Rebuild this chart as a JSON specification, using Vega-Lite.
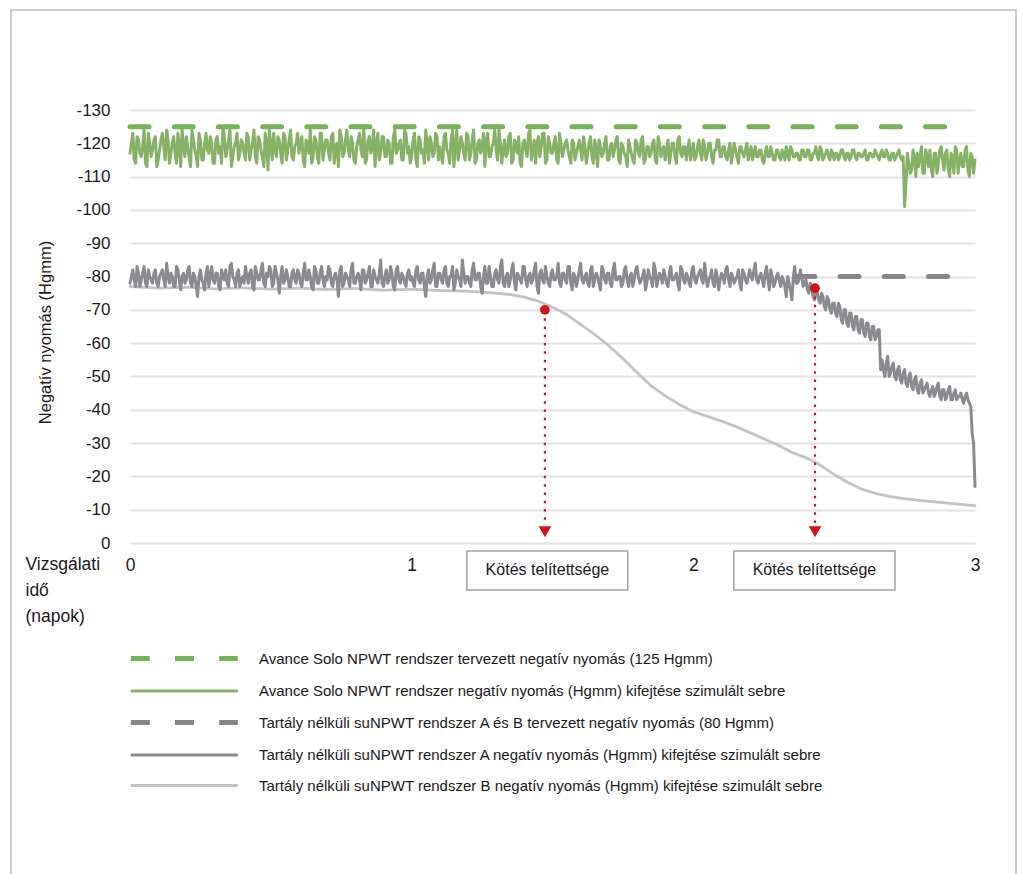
{
"$schema": "https://vega.github.io/schema/vega-lite/v6.json",
"width": 845, "height": 433,
"autosize": {"type": "none"},
"padding": {"left": 130, "top": 110, "right": 47, "bottom": 331},
"background": "white",
"config": {"view": {"stroke": null}, "font": "Liberation Sans, Arial, sans-serif",
  "axis": {"labelColor": "#1a1a1a", "titleColor": "#1a1a1a", "titleFontWeight": "normal", "labelFont": "Liberation Sans, Arial, sans-serif", "titleFont": "Liberation Sans, Arial, sans-serif"}},
"datasets": {
"frame": [{"x": -0.4225, "x2": 3.1456, "y": 160.0, "y2": -107}],
"series": [
{"s":"2","x":0,"y":117},{"s":"2","x":0.01,"y":123},{"s":"2","x":0.02,"y":114},{"s":"2","x":0.03,"y":121},{"s":"2","x":0.04,"y":116},{"s":"2","x":0.05,"y":124},{"s":"2","x":0.06,"y":113},{"s":"2","x":0.07,"y":120},{"s":"2","x":0.08,"y":118},{"s":"2","x":0.09,"y":122},
{"s":"2","x":0.1,"y":115},{"s":"2","x":0.11,"y":121},{"s":"2","x":0.12,"y":119},{"s":"2","x":0.13,"y":124},{"s":"2","x":0.14,"y":114},{"s":"2","x":0.15,"y":120},{"s":"2","x":0.16,"y":117},{"s":"2","x":0.17,"y":123},{"s":"2","x":0.18,"y":113},{"s":"2","x":0.19,"y":119},
{"s":"2","x":0.2,"y":122},{"s":"2","x":0.21,"y":116},{"s":"2","x":0.22,"y":124},{"s":"2","x":0.23,"y":118},{"s":"2","x":0.24,"y":113},{"s":"2","x":0.25,"y":121},{"s":"2","x":0.26,"y":115},{"s":"2","x":0.27,"y":123},{"s":"2","x":0.28,"y":117},{"s":"2","x":0.29,"y":120},
{"s":"2","x":0.3,"y":114},{"s":"2","x":0.31,"y":122},{"s":"2","x":0.32,"y":119},{"s":"2","x":0.33,"y":125},{"s":"2","x":0.34,"y":116},{"s":"2","x":0.35,"y":121},{"s":"2","x":0.36,"y":113},{"s":"2","x":0.37,"y":119},{"s":"2","x":0.38,"y":123},{"s":"2","x":0.39,"y":117},
{"s":"2","x":0.4,"y":120},{"s":"2","x":0.41,"y":115},{"s":"2","x":0.42,"y":122},{"s":"2","x":0.43,"y":118},{"s":"2","x":0.44,"y":124},{"s":"2","x":0.45,"y":114},{"s":"2","x":0.46,"y":121},{"s":"2","x":0.47,"y":116},{"s":"2","x":0.48,"y":123},{"s":"2","x":0.49,"y":112},
{"s":"2","x":0.5,"y":119},{"s":"2","x":0.51,"y":123},{"s":"2","x":0.52,"y":116},{"s":"2","x":0.53,"y":121},{"s":"2","x":0.54,"y":114},{"s":"2","x":0.55,"y":122},{"s":"2","x":0.56,"y":118},{"s":"2","x":0.57,"y":124},{"s":"2","x":0.58,"y":115},{"s":"2","x":0.59,"y":120},
{"s":"2","x":0.6,"y":117},{"s":"2","x":0.61,"y":122},{"s":"2","x":0.62,"y":113},{"s":"2","x":0.63,"y":120},{"s":"2","x":0.64,"y":124},{"s":"2","x":0.65,"y":116},{"s":"2","x":0.66,"y":121},{"s":"2","x":0.67,"y":114},{"s":"2","x":0.68,"y":123},{"s":"2","x":0.69,"y":118},
{"s":"2","x":0.7,"y":121},{"s":"2","x":0.71,"y":115},{"s":"2","x":0.72,"y":123},{"s":"2","x":0.73,"y":119},{"s":"2","x":0.74,"y":113},{"s":"2","x":0.75,"y":122},{"s":"2","x":0.76,"y":117},{"s":"2","x":0.77,"y":124},{"s":"2","x":0.78,"y":116},{"s":"2","x":0.79,"y":120},
{"s":"2","x":0.8,"y":114},{"s":"2","x":0.81,"y":121},{"s":"2","x":0.82,"y":118},{"s":"2","x":0.83,"y":125},{"s":"2","x":0.84,"y":115},{"s":"2","x":0.85,"y":122},{"s":"2","x":0.86,"y":119},{"s":"2","x":0.87,"y":113},{"s":"2","x":0.88,"y":123},{"s":"2","x":0.89,"y":117},
{"s":"2","x":0.9,"y":122},{"s":"2","x":0.91,"y":116},{"s":"2","x":0.92,"y":120},{"s":"2","x":0.93,"y":114},{"s":"2","x":0.94,"y":124},{"s":"2","x":0.95,"y":118},{"s":"2","x":0.96,"y":121},{"s":"2","x":0.97,"y":115},{"s":"2","x":0.98,"y":123},{"s":"2","x":0.99,"y":119},
{"s":"2","x":1.0,"y":116},{"s":"2","x":1.01,"y":123},{"s":"2","x":1.02,"y":113},{"s":"2","x":1.03,"y":121},{"s":"2","x":1.04,"y":118},{"s":"2","x":1.05,"y":124},{"s":"2","x":1.06,"y":115},{"s":"2","x":1.07,"y":120},{"s":"2","x":1.08,"y":117},{"s":"2","x":1.09,"y":122},
{"s":"2","x":1.1,"y":119},{"s":"2","x":1.11,"y":114},{"s":"2","x":1.12,"y":123},{"s":"2","x":1.13,"y":117},{"s":"2","x":1.14,"y":121},{"s":"2","x":1.15,"y":113},{"s":"2","x":1.16,"y":124},{"s":"2","x":1.17,"y":118},{"s":"2","x":1.18,"y":120},{"s":"2","x":1.19,"y":115},
{"s":"2","x":1.2,"y":122},{"s":"2","x":1.21,"y":117},{"s":"2","x":1.22,"y":124},{"s":"2","x":1.23,"y":115},{"s":"2","x":1.24,"y":121},{"s":"2","x":1.25,"y":119},{"s":"2","x":1.26,"y":113},{"s":"2","x":1.27,"y":123},{"s":"2","x":1.28,"y":116},{"s":"2","x":1.29,"y":120},
{"s":"2","x":1.3,"y":118},{"s":"2","x":1.31,"y":124},{"s":"2","x":1.32,"y":114},{"s":"2","x":1.33,"y":121},{"s":"2","x":1.34,"y":117},{"s":"2","x":1.35,"y":123},{"s":"2","x":1.36,"y":115},{"s":"2","x":1.37,"y":120},{"s":"2","x":1.38,"y":122},{"s":"2","x":1.39,"y":113},
{"s":"2","x":1.4,"y":121},{"s":"2","x":1.41,"y":116},{"s":"2","x":1.42,"y":124},{"s":"2","x":1.43,"y":118},{"s":"2","x":1.44,"y":114},{"s":"2","x":1.45,"y":122},{"s":"2","x":1.46,"y":119},{"s":"2","x":1.47,"y":123},{"s":"2","x":1.48,"y":115},{"s":"2","x":1.49,"y":120},
{"s":"2","x":1.5,"y":117},{"s":"2","x":1.51,"y":122},{"s":"2","x":1.52,"y":114},{"s":"2","x":1.53,"y":120},{"s":"2","x":1.54,"y":118},{"s":"2","x":1.55,"y":121},{"s":"2","x":1.56,"y":116},{"s":"2","x":1.57,"y":121},{"s":"2","x":1.58,"y":115},{"s":"2","x":1.59,"y":119},
{"s":"2","x":1.6,"y":118},{"s":"2","x":1.61,"y":122},{"s":"2","x":1.62,"y":114},{"s":"2","x":1.63,"y":120},{"s":"2","x":1.64,"y":116},{"s":"2","x":1.65,"y":121},{"s":"2","x":1.66,"y":113},{"s":"2","x":1.67,"y":119},{"s":"2","x":1.68,"y":117},{"s":"2","x":1.69,"y":122},
{"s":"2","x":1.7,"y":115},{"s":"2","x":1.71,"y":120},{"s":"2","x":1.72,"y":118},{"s":"2","x":1.73,"y":122},{"s":"2","x":1.74,"y":114},{"s":"2","x":1.75,"y":119},{"s":"2","x":1.76,"y":116},{"s":"2","x":1.77,"y":121},{"s":"2","x":1.78,"y":117},{"s":"2","x":1.79,"y":114},
{"s":"2","x":1.8,"y":120},{"s":"2","x":1.81,"y":116},{"s":"2","x":1.82,"y":122},{"s":"2","x":1.83,"y":115},{"s":"2","x":1.84,"y":119},{"s":"2","x":1.85,"y":117},{"s":"2","x":1.86,"y":121},{"s":"2","x":1.87,"y":114},{"s":"2","x":1.88,"y":120},{"s":"2","x":1.89,"y":118},
{"s":"2","x":1.9,"y":115},{"s":"2","x":1.91,"y":121},{"s":"2","x":1.92,"y":117},{"s":"2","x":1.93,"y":120},{"s":"2","x":1.94,"y":114},{"s":"2","x":1.95,"y":122},{"s":"2","x":1.96,"y":116},{"s":"2","x":1.97,"y":119},{"s":"2","x":1.98,"y":118},{"s":"2","x":1.99,"y":115},
{"s":"2","x":2.0,"y":120},{"s":"2","x":2.01,"y":116},{"s":"2","x":2.02,"y":121},{"s":"2","x":2.03,"y":115},{"s":"2","x":2.04,"y":119},{"s":"2","x":2.05,"y":117},{"s":"2","x":2.06,"y":120},{"s":"2","x":2.07,"y":114},{"s":"2","x":2.08,"y":118},{"s":"2","x":2.09,"y":121},
{"s":"2","x":2.1,"y":116},{"s":"2","x":2.11,"y":119},{"s":"2","x":2.12,"y":115},{"s":"2","x":2.13,"y":120},{"s":"2","x":2.14,"y":117},{"s":"2","x":2.15,"y":118},{"s":"2","x":2.16,"y":114},{"s":"2","x":2.17,"y":119},{"s":"2","x":2.18,"y":116},{"s":"2","x":2.19,"y":120},
{"s":"2","x":2.2,"y":117},{"s":"2","x":2.21,"y":115},{"s":"2","x":2.22,"y":119},{"s":"2","x":2.23,"y":116},{"s":"2","x":2.24,"y":118},{"s":"2","x":2.25,"y":114},{"s":"2","x":2.26,"y":119},{"s":"2","x":2.27,"y":116},{"s":"2","x":2.28,"y":117},{"s":"2","x":2.29,"y":115},
{"s":"2","x":2.3,"y":118},{"s":"2","x":2.31,"y":115},{"s":"2","x":2.32,"y":117},{"s":"2","x":2.33,"y":119},{"s":"2","x":2.34,"y":115},{"s":"2","x":2.35,"y":118},{"s":"2","x":2.36,"y":116},{"s":"2","x":2.37,"y":117},{"s":"2","x":2.38,"y":115},{"s":"2","x":2.39,"y":118},
{"s":"2","x":2.4,"y":116},{"s":"2","x":2.41,"y":118},{"s":"2","x":2.42,"y":115},{"s":"2","x":2.43,"y":117},{"s":"2","x":2.44,"y":116},{"s":"2","x":2.45,"y":119},{"s":"2","x":2.46,"y":115},{"s":"2","x":2.47,"y":117},{"s":"2","x":2.48,"y":116},{"s":"2","x":2.49,"y":118},
{"s":"2","x":2.5,"y":115},{"s":"2","x":2.51,"y":117},{"s":"2","x":2.52,"y":116},{"s":"2","x":2.53,"y":118},{"s":"2","x":2.54,"y":115},{"s":"2","x":2.55,"y":117},{"s":"2","x":2.56,"y":116},{"s":"2","x":2.57,"y":118},{"s":"2","x":2.58,"y":115},{"s":"2","x":2.59,"y":117},
{"s":"2","x":2.6,"y":116},{"s":"2","x":2.61,"y":118},{"s":"2","x":2.62,"y":115},{"s":"2","x":2.63,"y":117},{"s":"2","x":2.64,"y":116},{"s":"2","x":2.65,"y":117},{"s":"2","x":2.66,"y":115},{"s":"2","x":2.67,"y":118},{"s":"2","x":2.68,"y":116},{"s":"2","x":2.69,"y":117},
{"s":"2","x":2.7,"y":115},{"s":"2","x":2.71,"y":117},{"s":"2","x":2.72,"y":116},{"s":"2","x":2.73,"y":118},{"s":"2","x":2.74,"y":115},{"s":"2","x":2.745,"y":116},{"s":"2","x":2.75,"y":101},{"s":"2","x":2.755,"y":108},{"s":"2","x":2.76,"y":117},{"s":"2","x":2.77,"y":111},{"s":"2","x":2.78,"y":118},{"s":"2","x":2.79,"y":110},
{"s":"2","x":2.8,"y":113},{"s":"2","x":2.81,"y":119},{"s":"2","x":2.82,"y":111},{"s":"2","x":2.83,"y":116},{"s":"2","x":2.84,"y":118},{"s":"2","x":2.85,"y":110},{"s":"2","x":2.86,"y":117},{"s":"2","x":2.87,"y":114},{"s":"2","x":2.88,"y":119},{"s":"2","x":2.89,"y":112},
{"s":"2","x":2.9,"y":118},{"s":"2","x":2.91,"y":110},{"s":"2","x":2.92,"y":116},{"s":"2","x":2.93,"y":119},{"s":"2","x":2.94,"y":111},{"s":"2","x":2.95,"y":117},{"s":"2","x":2.96,"y":113},{"s":"2","x":2.97,"y":119},{"s":"2","x":2.98,"y":110},{"s":"2","x":2.99,"y":116},{"s":"2","x":3.0,"y":115},

{"s":"2","x":0.005,"y":120},{"s":"2","x":0.015,"y":115},{"s":"2","x":0.025,"y":122},{"s":"2","x":0.035,"y":117},{"s":"2","x":0.045,"y":119},{"s":"2","x":0.055,"y":114},{"s":"2","x":0.065,"y":123},{"s":"2","x":0.075,"y":116},{"s":"2","x":0.085,"y":121},{"s":"2","x":0.095,"y":113},
{"s":"2","x":0.105,"y":118},{"s":"2","x":0.115,"y":123},{"s":"2","x":0.125,"y":115},{"s":"2","x":0.135,"y":121},{"s":"2","x":0.145,"y":117},{"s":"2","x":0.155,"y":122},{"s":"2","x":0.165,"y":114},{"s":"2","x":0.175,"y":119},{"s":"2","x":0.185,"y":124},{"s":"2","x":0.195,"y":116},
{"s":"2","x":0.205,"y":119},{"s":"2","x":0.215,"y":113},{"s":"2","x":0.225,"y":121},{"s":"2","x":0.235,"y":116},{"s":"2","x":0.245,"y":123},{"s":"2","x":0.255,"y":115},{"s":"2","x":0.265,"y":120},{"s":"2","x":0.275,"y":118},{"s":"2","x":0.285,"y":122},{"s":"2","x":0.295,"y":114},
{"s":"2","x":0.305,"y":121},{"s":"2","x":0.315,"y":117},{"s":"2","x":0.325,"y":114},{"s":"2","x":0.335,"y":122},{"s":"2","x":0.345,"y":118},{"s":"2","x":0.355,"y":124},{"s":"2","x":0.365,"y":116},{"s":"2","x":0.375,"y":120},{"s":"2","x":0.385,"y":115},{"s":"2","x":0.395,"y":121},
{"s":"2","x":0.405,"y":117},{"s":"2","x":0.415,"y":123},{"s":"2","x":0.425,"y":115},{"s":"2","x":0.435,"y":120},{"s":"2","x":0.445,"y":116},{"s":"2","x":0.455,"y":122},{"s":"2","x":0.465,"y":118},{"s":"2","x":0.475,"y":113},{"s":"2","x":0.485,"y":120},{"s":"2","x":0.495,"y":124},
{"s":"2","x":0.505,"y":115},{"s":"2","x":0.515,"y":118},{"s":"2","x":0.525,"y":122},{"s":"2","x":0.535,"y":117},{"s":"2","x":0.545,"y":123},{"s":"2","x":0.555,"y":115},{"s":"2","x":0.565,"y":121},{"s":"2","x":0.575,"y":116},{"s":"2","x":0.585,"y":119},{"s":"2","x":0.595,"y":123},
{"s":"2","x":0.605,"y":120},{"s":"2","x":0.615,"y":115},{"s":"2","x":0.625,"y":121},{"s":"2","x":0.635,"y":117},{"s":"2","x":0.645,"y":114},{"s":"2","x":0.655,"y":122},{"s":"2","x":0.665,"y":116},{"s":"2","x":0.675,"y":123},{"s":"2","x":0.685,"y":115},{"s":"2","x":0.695,"y":121},
{"s":"2","x":0.705,"y":117},{"s":"2","x":0.715,"y":122},{"s":"2","x":0.725,"y":114},{"s":"2","x":0.735,"y":120},{"s":"2","x":0.745,"y":124},{"s":"2","x":0.755,"y":116},{"s":"2","x":0.765,"y":121},{"s":"2","x":0.775,"y":118},{"s":"2","x":0.785,"y":122},{"s":"2","x":0.795,"y":115},
{"s":"2","x":0.805,"y":119},{"s":"2","x":0.815,"y":123},{"s":"2","x":0.825,"y":116},{"s":"2","x":0.835,"y":114},{"s":"2","x":0.845,"y":121},{"s":"2","x":0.855,"y":117},{"s":"2","x":0.865,"y":124},{"s":"2","x":0.875,"y":120},{"s":"2","x":0.885,"y":115},{"s":"2","x":0.895,"y":122},
{"s":"2","x":0.905,"y":116},{"s":"2","x":0.915,"y":121},{"s":"2","x":0.925,"y":114},{"s":"2","x":0.935,"y":122},{"s":"2","x":0.945,"y":117},{"s":"2","x":0.955,"y":120},{"s":"2","x":0.965,"y":115},{"s":"2","x":0.975,"y":124},{"s":"2","x":0.985,"y":117},{"s":"2","x":0.995,"y":114},
{"s":"2","x":1.005,"y":121},{"s":"2","x":1.015,"y":115},{"s":"2","x":1.025,"y":122},{"s":"2","x":1.035,"y":117},{"s":"2","x":1.045,"y":114},{"s":"2","x":1.055,"y":120},{"s":"2","x":1.065,"y":122},{"s":"2","x":1.075,"y":116},{"s":"2","x":1.085,"y":123},{"s":"2","x":1.095,"y":115},
{"s":"2","x":1.105,"y":116},{"s":"2","x":1.115,"y":122},{"s":"2","x":1.125,"y":118},{"s":"2","x":1.135,"y":114},{"s":"2","x":1.145,"y":124},{"s":"2","x":1.155,"y":119},{"s":"2","x":1.165,"y":115},{"s":"2","x":1.175,"y":122},{"s":"2","x":1.185,"y":117},{"s":"2","x":1.195,"y":123},
{"s":"2","x":1.205,"y":115},{"s":"2","x":1.215,"y":121},{"s":"2","x":1.225,"y":114},{"s":"2","x":1.235,"y":120},{"s":"2","x":1.245,"y":117},{"s":"2","x":1.255,"y":123},{"s":"2","x":1.265,"y":121},{"s":"2","x":1.275,"y":116},{"s":"2","x":1.285,"y":119},{"s":"2","x":1.295,"y":124},
{"s":"2","x":1.305,"y":115},{"s":"2","x":1.315,"y":120},{"s":"2","x":1.325,"y":118},{"s":"2","x":1.335,"y":116},{"s":"2","x":1.345,"y":122},{"s":"2","x":1.355,"y":114},{"s":"2","x":1.365,"y":121},{"s":"2","x":1.375,"y":117},{"s":"2","x":1.385,"y":114},{"s":"2","x":1.395,"y":120},
{"s":"2","x":1.405,"y":118},{"s":"2","x":1.415,"y":123},{"s":"2","x":1.425,"y":115},{"s":"2","x":1.435,"y":121},{"s":"2","x":1.445,"y":120},{"s":"2","x":1.455,"y":116},{"s":"2","x":1.465,"y":123},{"s":"2","x":1.475,"y":114},{"s":"2","x":1.485,"y":122},{"s":"2","x":1.495,"y":117},
{"s":"2","x":1.505,"y":120},{"s":"2","x":1.515,"y":115},{"s":"2","x":1.525,"y":123},{"s":"2","x":1.535,"y":116},{"s":"2","x":1.545,"y":120},
{"s":"2","x":1.555,"y":118},{"s":"2","x":1.565,"y":114},{"s":"2","x":1.575,"y":120},{"s":"2","x":1.585,"y":117},{"s":"2","x":1.595,"y":121},
{"s":"2","x":1.605,"y":115},{"s":"2","x":1.615,"y":119},{"s":"2","x":1.625,"y":117},{"s":"2","x":1.635,"y":122},{"s":"2","x":1.645,"y":114},{"s":"2","x":1.655,"y":118},{"s":"2","x":1.665,"y":121},{"s":"2","x":1.675,"y":116},{"s":"2","x":1.685,"y":120},{"s":"2","x":1.695,"y":115},
{"s":"2","x":1.705,"y":119},{"s":"2","x":1.715,"y":116},{"s":"2","x":1.725,"y":121},{"s":"2","x":1.735,"y":115},{"s":"2","x":1.745,"y":120},{"s":"2","x":1.755,"y":117},{"s":"2","x":1.765,"y":113},{"s":"2","x":1.775,"y":119},{"s":"2","x":1.785,"y":115},{"s":"2","x":1.795,"y":121},
{"s":"2","x":1.805,"y":117},{"s":"2","x":1.815,"y":121},{"s":"2","x":1.825,"y":114},{"s":"2","x":1.835,"y":119},{"s":"2","x":1.845,"y":116},{"s":"2","x":1.855,"y":120},{"s":"2","x":1.865,"y":115},{"s":"2","x":1.875,"y":122},{"s":"2","x":1.885,"y":116},{"s":"2","x":1.895,"y":119},
{"s":"2","x":1.905,"y":118},{"s":"2","x":1.915,"y":114},{"s":"2","x":1.925,"y":120},{"s":"2","x":1.935,"y":116},{"s":"2","x":1.945,"y":121},{"s":"2","x":1.955,"y":117},{"s":"2","x":1.965,"y":119},{"s":"2","x":1.975,"y":115},{"s":"2","x":1.985,"y":121},{"s":"2","x":1.995,"y":117},
{"s":"2","x":2.005,"y":115},{"s":"2","x":2.015,"y":119},{"s":"2","x":2.025,"y":117},{"s":"2","x":2.035,"y":121},{"s":"2","x":2.045,"y":115},{"s":"2","x":2.055,"y":120},{"s":"2","x":2.065,"y":116},{"s":"2","x":2.075,"y":118},{"s":"2","x":2.085,"y":121},{"s":"2","x":2.095,"y":116},
{"s":"2","x":2.105,"y":119},{"s":"2","x":2.115,"y":116},{"s":"2","x":2.125,"y":118},{"s":"2","x":2.135,"y":114},{"s":"2","x":2.145,"y":120},{"s":"2","x":2.155,"y":116},{"s":"2","x":2.165,"y":119},{"s":"2","x":2.175,"y":117},{"s":"2","x":2.185,"y":118},{"s":"2","x":2.195,"y":115},
{"s":"2","x":2.205,"y":119},{"s":"2","x":2.215,"y":117},{"s":"2","x":2.225,"y":116},{"s":"2","x":2.235,"y":118},{"s":"2","x":2.245,"y":115},{"s":"2","x":2.255,"y":117},{"s":"2","x":2.265,"y":116},{"s":"2","x":2.275,"y":119},{"s":"2","x":2.285,"y":115},{"s":"2","x":2.295,"y":118},
{"s":"2","x":2.305,"y":116},{"s":"2","x":2.315,"y":118},{"s":"2","x":2.325,"y":115},{"s":"2","x":2.335,"y":117},{"s":"2","x":2.345,"y":119},{"s":"2","x":2.355,"y":116},{"s":"2","x":2.365,"y":117},{"s":"2","x":2.375,"y":115},{"s":"2","x":2.385,"y":118},{"s":"2","x":2.395,"y":116},
{"s":"2","x":2.405,"y":118},{"s":"2","x":2.415,"y":115},{"s":"2","x":2.425,"y":117},{"s":"2","x":2.435,"y":119},{"s":"2","x":2.445,"y":115},{"s":"2","x":2.455,"y":118},{"s":"2","x":2.465,"y":116},{"s":"2","x":2.475,"y":118},{"s":"2","x":2.485,"y":115},{"s":"2","x":2.495,"y":117},
{"s":"2","x":2.505,"y":117},{"s":"2","x":2.515,"y":115},{"s":"2","x":2.525,"y":118},{"s":"2","x":2.535,"y":116},{"s":"2","x":2.545,"y":117},{"s":"2","x":2.555,"y":115},{"s":"2","x":2.565,"y":118},{"s":"2","x":2.575,"y":116},{"s":"2","x":2.585,"y":117},{"s":"2","x":2.595,"y":116},
{"s":"2","x":2.605,"y":117},{"s":"2","x":2.615,"y":115},{"s":"2","x":2.625,"y":117},{"s":"2","x":2.635,"y":116},{"s":"2","x":2.645,"y":118},{"s":"2","x":2.655,"y":116},{"s":"2","x":2.665,"y":117},{"s":"2","x":2.675,"y":116},{"s":"2","x":2.685,"y":118},{"s":"2","x":2.695,"y":115},
{"s":"2","x":2.705,"y":117},{"s":"2","x":2.715,"y":115},{"s":"2","x":2.725,"y":117},{"s":"2","x":2.735,"y":116},
{"s":"2","x":2.765,"y":114},{"s":"2","x":2.775,"y":112},{"s":"2","x":2.785,"y":116},{"s":"2","x":2.795,"y":117},
{"s":"2","x":2.805,"y":116},{"s":"2","x":2.815,"y":111},{"s":"2","x":2.825,"y":118},{"s":"2","x":2.835,"y":113},{"s":"2","x":2.845,"y":112},{"s":"2","x":2.855,"y":117},{"s":"2","x":2.865,"y":111},{"s":"2","x":2.875,"y":118},{"s":"2","x":2.885,"y":115},{"s":"2","x":2.895,"y":117},
{"s":"2","x":2.905,"y":112},{"s":"2","x":2.915,"y":117},{"s":"2","x":2.925,"y":111},{"s":"2","x":2.935,"y":118},{"s":"2","x":2.945,"y":115},{"s":"2","x":2.955,"y":113},{"s":"2","x":2.965,"y":118},{"s":"2","x":2.975,"y":112},{"s":"2","x":2.985,"y":117},{"s":"2","x":2.995,"y":111},

{"s":"5","x":0,"y":77},{"s":"5","x":0.1,"y":76.5},{"s":"5","x":0.2,"y":76.8},{"s":"5","x":0.3,"y":76.3},{"s":"5","x":0.4,"y":76.6},{"s":"5","x":0.5,"y":76.2},{"s":"5","x":0.6,"y":76.5},{"s":"5","x":0.7,"y":76.1},{"s":"5","x":0.8,"y":76.4},{"s":"5","x":0.9,"y":75.9},{"s":"5","x":1.0,"y":76.2},{"s":"5","x":1.1,"y":75.8},{"s":"5","x":1.2,"y":75.6},{"s":"5","x":1.3,"y":75.0},{"s":"5","x":1.35,"y":74.6},{"s":"5","x":1.4,"y":73.8},{"s":"5","x":1.45,"y":72.6},{"s":"5","x":1.5,"y":70.8},{"s":"5","x":1.55,"y":68.6},{"s":"5","x":1.6,"y":65.6},{"s":"5","x":1.65,"y":62.6},{"s":"5","x":1.7,"y":59.2},{"s":"5","x":1.75,"y":55.4},{"s":"5","x":1.8,"y":51.2},{"s":"5","x":1.85,"y":47.2},{"s":"5","x":1.9,"y":44.2},{"s":"5","x":1.95,"y":41.6},{"s":"5","x":2.0,"y":39.4},{"s":"5","x":2.05,"y":38.0},{"s":"5","x":2.1,"y":36.6},{"s":"5","x":2.15,"y":35.0},{"s":"5","x":2.2,"y":33.2},{"s":"5","x":2.25,"y":31.3},{"s":"5","x":2.3,"y":29.4},{"s":"5","x":2.35,"y":27.2},{"s":"5","x":2.4,"y":25.6},{"s":"5","x":2.43,"y":24.4},{"s":"5","x":2.45,"y":23.4},{"s":"5","x":2.5,"y":20.6},{"s":"5","x":2.55,"y":18.1},{"s":"5","x":2.6,"y":16.1},{"s":"5","x":2.65,"y":14.8},{"s":"5","x":2.7,"y":13.9},{"s":"5","x":2.75,"y":13.3},{"s":"5","x":2.8,"y":12.8},{"s":"5","x":2.85,"y":12.4},{"s":"5","x":2.9,"y":12.0},{"s":"5","x":2.95,"y":11.6},{"s":"5","x":3.0,"y":11.2},

{"s":"4","x":0,"y":78},{"s":"4","x":0.01,"y":82},{"s":"4","x":0.02,"y":77},{"s":"4","x":0.03,"y":81},{"s":"4","x":0.04,"y":79},{"s":"4","x":0.05,"y":83},{"s":"4","x":0.06,"y":77},{"s":"4","x":0.07,"y":80},{"s":"4","x":0.08,"y":78},{"s":"4","x":0.09,"y":82},
{"s":"4","x":0.1,"y":77},{"s":"4","x":0.11,"y":81},{"s":"4","x":0.12,"y":79},{"s":"4","x":0.13,"y":84},{"s":"4","x":0.14,"y":78},{"s":"4","x":0.15,"y":80},{"s":"4","x":0.16,"y":77},{"s":"4","x":0.17,"y":82},{"s":"4","x":0.18,"y":76},{"s":"4","x":0.19,"y":81},
{"s":"4","x":0.2,"y":79},{"s":"4","x":0.21,"y":83},{"s":"4","x":0.22,"y":77},{"s":"4","x":0.23,"y":80},{"s":"4","x":0.24,"y":74},{"s":"4","x":0.25,"y":82},{"s":"4","x":0.26,"y":78},{"s":"4","x":0.27,"y":81},{"s":"4","x":0.28,"y":77},{"s":"4","x":0.29,"y":83},
{"s":"4","x":0.3,"y":78},{"s":"4","x":0.31,"y":81},{"s":"4","x":0.32,"y":76},{"s":"4","x":0.33,"y":80},{"s":"4","x":0.34,"y":82},{"s":"4","x":0.35,"y":77},{"s":"4","x":0.36,"y":84},{"s":"4","x":0.37,"y":79},{"s":"4","x":0.38,"y":81},{"s":"4","x":0.39,"y":77},
{"s":"4","x":0.4,"y":80},{"s":"4","x":0.41,"y":83},{"s":"4","x":0.42,"y":78},{"s":"4","x":0.43,"y":82},{"s":"4","x":0.44,"y":76},{"s":"4","x":0.45,"y":81},{"s":"4","x":0.46,"y":79},{"s":"4","x":0.47,"y":84},{"s":"4","x":0.48,"y":77},{"s":"4","x":0.49,"y":80},
{"s":"4","x":0.5,"y":82},{"s":"4","x":0.51,"y":78},{"s":"4","x":0.52,"y":81},{"s":"4","x":0.53,"y":75},{"s":"4","x":0.54,"y":83},{"s":"4","x":0.55,"y":79},{"s":"4","x":0.56,"y":80},{"s":"4","x":0.57,"y":77},{"s":"4","x":0.58,"y":82},{"s":"4","x":0.59,"y":78},
{"s":"4","x":0.6,"y":81},{"s":"4","x":0.61,"y":77},{"s":"4","x":0.62,"y":84},{"s":"4","x":0.63,"y":79},{"s":"4","x":0.64,"y":80},{"s":"4","x":0.65,"y":76},{"s":"4","x":0.66,"y":82},{"s":"4","x":0.67,"y":78},{"s":"4","x":0.68,"y":83},{"s":"4","x":0.69,"y":77},
{"s":"4","x":0.7,"y":79},{"s":"4","x":0.71,"y":82},{"s":"4","x":0.72,"y":77},{"s":"4","x":0.73,"y":81},{"s":"4","x":0.74,"y":74},{"s":"4","x":0.75,"y":83},{"s":"4","x":0.76,"y":78},{"s":"4","x":0.77,"y":80},{"s":"4","x":0.78,"y":77},{"s":"4","x":0.79,"y":84},
{"s":"4","x":0.8,"y":78},{"s":"4","x":0.81,"y":81},{"s":"4","x":0.82,"y":76},{"s":"4","x":0.83,"y":82},{"s":"4","x":0.84,"y":79},{"s":"4","x":0.85,"y":83},{"s":"4","x":0.86,"y":77},{"s":"4","x":0.87,"y":80},{"s":"4","x":0.88,"y":78},{"s":"4","x":0.89,"y":85},
{"s":"4","x":0.9,"y":77},{"s":"4","x":0.91,"y":82},{"s":"4","x":0.92,"y":79},{"s":"4","x":0.93,"y":81},{"s":"4","x":0.94,"y":76},{"s":"4","x":0.95,"y":83},{"s":"4","x":0.96,"y":78},{"s":"4","x":0.97,"y":80},{"s":"4","x":0.98,"y":77},{"s":"4","x":0.99,"y":82},
{"s":"4","x":1.0,"y":80},{"s":"4","x":1.01,"y":77},{"s":"4","x":1.02,"y":83},{"s":"4","x":1.03,"y":78},{"s":"4","x":1.04,"y":81},{"s":"4","x":1.05,"y":74},{"s":"4","x":1.06,"y":82},{"s":"4","x":1.07,"y":79},{"s":"4","x":1.08,"y":84},{"s":"4","x":1.09,"y":77},
{"s":"4","x":1.1,"y":81},{"s":"4","x":1.11,"y":78},{"s":"4","x":1.12,"y":83},{"s":"4","x":1.13,"y":77},{"s":"4","x":1.14,"y":80},{"s":"4","x":1.15,"y":76},{"s":"4","x":1.16,"y":82},{"s":"4","x":1.17,"y":79},{"s":"4","x":1.18,"y":85},{"s":"4","x":1.19,"y":78},
{"s":"4","x":1.2,"y":80},{"s":"4","x":1.21,"y":77},{"s":"4","x":1.22,"y":84},{"s":"4","x":1.23,"y":79},{"s":"4","x":1.24,"y":81},{"s":"4","x":1.25,"y":75},{"s":"4","x":1.26,"y":83},{"s":"4","x":1.27,"y":78},{"s":"4","x":1.28,"y":80},{"s":"4","x":1.29,"y":77},
{"s":"4","x":1.3,"y":82},{"s":"4","x":1.31,"y":78},{"s":"4","x":1.32,"y":85},{"s":"4","x":1.33,"y":77},{"s":"4","x":1.34,"y":81},{"s":"4","x":1.35,"y":79},{"s":"4","x":1.36,"y":84},{"s":"4","x":1.37,"y":76},{"s":"4","x":1.38,"y":80},{"s":"4","x":1.39,"y":78},
{"s":"4","x":1.4,"y":83},{"s":"4","x":1.41,"y":77},{"s":"4","x":1.42,"y":81},{"s":"4","x":1.43,"y":79},{"s":"4","x":1.44,"y":84},{"s":"4","x":1.45,"y":75},{"s":"4","x":1.46,"y":82},{"s":"4","x":1.47,"y":78},{"s":"4","x":1.48,"y":80},{"s":"4","x":1.49,"y":77},
{"s":"4","x":1.5,"y":82},{"s":"4","x":1.51,"y":79},{"s":"4","x":1.52,"y":84},{"s":"4","x":1.53,"y":77},{"s":"4","x":1.54,"y":81},{"s":"4","x":1.55,"y":78},{"s":"4","x":1.56,"y":83},{"s":"4","x":1.57,"y":76},{"s":"4","x":1.58,"y":80},{"s":"4","x":1.59,"y":79},
{"s":"4","x":1.6,"y":84},{"s":"4","x":1.61,"y":78},{"s":"4","x":1.62,"y":81},{"s":"4","x":1.63,"y":77},{"s":"4","x":1.64,"y":83},{"s":"4","x":1.65,"y":79},{"s":"4","x":1.66,"y":80},{"s":"4","x":1.67,"y":76},{"s":"4","x":1.68,"y":82},{"s":"4","x":1.69,"y":78},
{"s":"4","x":1.7,"y":81},{"s":"4","x":1.71,"y":77},{"s":"4","x":1.72,"y":84},{"s":"4","x":1.73,"y":79},{"s":"4","x":1.74,"y":80},{"s":"4","x":1.75,"y":78},{"s":"4","x":1.76,"y":83},{"s":"4","x":1.77,"y":77},{"s":"4","x":1.78,"y":81},{"s":"4","x":1.79,"y":79},
{"s":"4","x":1.8,"y":83},{"s":"4","x":1.81,"y":78},{"s":"4","x":1.82,"y":80},{"s":"4","x":1.83,"y":76},{"s":"4","x":1.84,"y":82},{"s":"4","x":1.85,"y":79},{"s":"4","x":1.86,"y":84},{"s":"4","x":1.87,"y":77},{"s":"4","x":1.88,"y":81},{"s":"4","x":1.89,"y":78},
{"s":"4","x":1.9,"y":80},{"s":"4","x":1.91,"y":77},{"s":"4","x":1.92,"y":83},{"s":"4","x":1.93,"y":79},{"s":"4","x":1.94,"y":81},{"s":"4","x":1.95,"y":76},{"s":"4","x":1.96,"y":82},{"s":"4","x":1.97,"y":78},{"s":"4","x":1.98,"y":80},{"s":"4","x":1.99,"y":77},
{"s":"4","x":2.0,"y":83},{"s":"4","x":2.01,"y":78},{"s":"4","x":2.02,"y":81},{"s":"4","x":2.03,"y":79},{"s":"4","x":2.04,"y":84},{"s":"4","x":2.05,"y":77},{"s":"4","x":2.06,"y":80},{"s":"4","x":2.07,"y":78},{"s":"4","x":2.08,"y":82},{"s":"4","x":2.09,"y":76},
{"s":"4","x":2.1,"y":81},{"s":"4","x":2.11,"y":78},{"s":"4","x":2.12,"y":83},{"s":"4","x":2.13,"y":77},{"s":"4","x":2.14,"y":80},{"s":"4","x":2.15,"y":79},{"s":"4","x":2.16,"y":82},{"s":"4","x":2.17,"y":76},{"s":"4","x":2.18,"y":81},{"s":"4","x":2.19,"y":78},
{"s":"4","x":2.2,"y":82},{"s":"4","x":2.21,"y":79},{"s":"4","x":2.22,"y":84},{"s":"4","x":2.23,"y":78},{"s":"4","x":2.24,"y":81},{"s":"4","x":2.25,"y":77},{"s":"4","x":2.26,"y":83},{"s":"4","x":2.27,"y":76},{"s":"4","x":2.28,"y":80},{"s":"4","x":2.29,"y":78},
{"s":"4","x":2.3,"y":81},{"s":"4","x":2.31,"y":77},{"s":"4","x":2.32,"y":79},{"s":"4","x":2.33,"y":74},{"s":"4","x":2.34,"y":78},{"s":"4","x":2.35,"y":73},{"s":"4","x":2.36,"y":83},{"s":"4","x":2.37,"y":78},{"s":"4","x":2.38,"y":82},{"s":"4","x":2.39,"y":77},
{"s":"4","x":2.4,"y":79},{"s":"4","x":2.41,"y":75},{"s":"4","x":2.42,"y":77},{"s":"4","x":2.43,"y":73},{"s":"4","x":2.44,"y":75},{"s":"4","x":2.45,"y":72},{"s":"4","x":2.46,"y":74},{"s":"4","x":2.47,"y":70},{"s":"4","x":2.48,"y":73},{"s":"4","x":2.49,"y":69},
{"s":"4","x":2.5,"y":72},{"s":"4","x":2.51,"y":68},{"s":"4","x":2.52,"y":71},{"s":"4","x":2.53,"y":66},{"s":"4","x":2.54,"y":70},{"s":"4","x":2.55,"y":65},{"s":"4","x":2.56,"y":69},{"s":"4","x":2.57,"y":64},{"s":"4","x":2.58,"y":68},{"s":"4","x":2.59,"y":63},
{"s":"4","x":2.6,"y":67},{"s":"4","x":2.61,"y":62},{"s":"4","x":2.62,"y":66},{"s":"4","x":2.63,"y":61},{"s":"4","x":2.64,"y":65},{"s":"4","x":2.65,"y":62},{"s":"4","x":2.66,"y":64},{"s":"4","x":2.665,"y":52},{"s":"4","x":2.67,"y":55},{"s":"4","x":2.68,"y":50},{"s":"4","x":2.69,"y":56},
{"s":"4","x":2.7,"y":51},{"s":"4","x":2.71,"y":54},{"s":"4","x":2.72,"y":49},{"s":"4","x":2.73,"y":53},{"s":"4","x":2.74,"y":48},{"s":"4","x":2.75,"y":52},{"s":"4","x":2.76,"y":47},{"s":"4","x":2.77,"y":51},{"s":"4","x":2.78,"y":46},{"s":"4","x":2.79,"y":50},
{"s":"4","x":2.8,"y":45},{"s":"4","x":2.81,"y":49},{"s":"4","x":2.82,"y":46},{"s":"4","x":2.83,"y":48},{"s":"4","x":2.84,"y":44},{"s":"4","x":2.85,"y":47},{"s":"4","x":2.86,"y":45},{"s":"4","x":2.87,"y":48},{"s":"4","x":2.88,"y":43},{"s":"4","x":2.89,"y":46},
{"s":"4","x":2.9,"y":44},{"s":"4","x":2.91,"y":47},{"s":"4","x":2.92,"y":43},{"s":"4","x":2.93,"y":46},{"s":"4","x":2.94,"y":44},{"s":"4","x":2.95,"y":45},{"s":"4","x":2.96,"y":42},{"s":"4","x":2.97,"y":45},{"s":"4","x":2.98,"y":42},{"s":"4","x":2.985,"y":41},{"s":"4","x":2.99,"y":33},{"s":"4","x":2.995,"y":30},{"s":"4","x":3.0,"y":17},

{"s":"4","x":0.005,"y":80},{"s":"4","x":0.015,"y":79},{"s":"4","x":0.025,"y":83},{"s":"4","x":0.035,"y":77},{"s":"4","x":0.045,"y":81},{"s":"4","x":0.055,"y":78},{"s":"4","x":0.065,"y":82},{"s":"4","x":0.075,"y":79},{"s":"4","x":0.085,"y":81},{"s":"4","x":0.095,"y":78},
{"s":"4","x":0.105,"y":80},{"s":"4","x":0.115,"y":82},{"s":"4","x":0.125,"y":77},{"s":"4","x":0.135,"y":80},{"s":"4","x":0.145,"y":81},{"s":"4","x":0.155,"y":77},{"s":"4","x":0.165,"y":83},{"s":"4","x":0.175,"y":79},{"s":"4","x":0.185,"y":80},{"s":"4","x":0.195,"y":78},
{"s":"4","x":0.205,"y":82},{"s":"4","x":0.215,"y":78},{"s":"4","x":0.225,"y":81},{"s":"4","x":0.235,"y":77},{"s":"4","x":0.245,"y":80},{"s":"4","x":0.255,"y":79},{"s":"4","x":0.265,"y":76},{"s":"4","x":0.275,"y":83},{"s":"4","x":0.285,"y":80},{"s":"4","x":0.295,"y":79},
{"s":"4","x":0.305,"y":81},{"s":"4","x":0.315,"y":77},{"s":"4","x":0.325,"y":82},{"s":"4","x":0.335,"y":79},{"s":"4","x":0.345,"y":78},{"s":"4","x":0.355,"y":83},{"s":"4","x":0.365,"y":80},{"s":"4","x":0.375,"y":77},{"s":"4","x":0.385,"y":82},{"s":"4","x":0.395,"y":79},
{"s":"4","x":0.405,"y":78},{"s":"4","x":0.415,"y":80},{"s":"4","x":0.425,"y":81},{"s":"4","x":0.435,"y":77},{"s":"4","x":0.445,"y":83},{"s":"4","x":0.455,"y":79},{"s":"4","x":0.465,"y":82},{"s":"4","x":0.475,"y":78},{"s":"4","x":0.485,"y":81},{"s":"4","x":0.495,"y":83},
{"s":"4","x":0.505,"y":77},{"s":"4","x":0.515,"y":83},{"s":"4","x":0.525,"y":79},{"s":"4","x":0.535,"y":80},{"s":"4","x":0.545,"y":78},{"s":"4","x":0.555,"y":82},{"s":"4","x":0.565,"y":77},{"s":"4","x":0.575,"y":81},{"s":"4","x":0.585,"y":79},{"s":"4","x":0.595,"y":82},
{"s":"4","x":0.605,"y":78},{"s":"4","x":0.615,"y":81},{"s":"4","x":0.625,"y":79},{"s":"4","x":0.635,"y":82},{"s":"4","x":0.645,"y":77},{"s":"4","x":0.655,"y":83},{"s":"4","x":0.665,"y":78},{"s":"4","x":0.675,"y":81},{"s":"4","x":0.685,"y":79},{"s":"4","x":0.695,"y":80},
{"s":"4","x":0.705,"y":83},{"s":"4","x":0.715,"y":78},{"s":"4","x":0.725,"y":80},{"s":"4","x":0.735,"y":79},{"s":"4","x":0.745,"y":82},{"s":"4","x":0.755,"y":77},{"s":"4","x":0.765,"y":81},{"s":"4","x":0.775,"y":79},{"s":"4","x":0.785,"y":82},{"s":"4","x":0.795,"y":78},
{"s":"4","x":0.805,"y":80},{"s":"4","x":0.815,"y":79},{"s":"4","x":0.825,"y":82},{"s":"4","x":0.835,"y":78},{"s":"4","x":0.845,"y":81},{"s":"4","x":0.855,"y":77},{"s":"4","x":0.865,"y":82},{"s":"4","x":0.875,"y":79},{"s":"4","x":0.885,"y":81},{"s":"4","x":0.895,"y":78},
{"s":"4","x":0.905,"y":80},{"s":"4","x":0.915,"y":78},{"s":"4","x":0.925,"y":83},{"s":"4","x":0.935,"y":77},{"s":"4","x":0.945,"y":82},{"s":"4","x":0.955,"y":79},{"s":"4","x":0.965,"y":81},{"s":"4","x":0.975,"y":78},{"s":"4","x":0.985,"y":81},{"s":"4","x":0.995,"y":79},
{"s":"4","x":1.005,"y":78},{"s":"4","x":1.015,"y":82},{"s":"4","x":1.025,"y":79},{"s":"4","x":1.035,"y":81},{"s":"4","x":1.045,"y":77},{"s":"4","x":1.055,"y":80},{"s":"4","x":1.065,"y":78},{"s":"4","x":1.075,"y":82},{"s":"4","x":1.085,"y":77},{"s":"4","x":1.095,"y":81},
{"s":"4","x":1.105,"y":79},{"s":"4","x":1.115,"y":82},{"s":"4","x":1.125,"y":78},{"s":"4","x":1.135,"y":80},{"s":"4","x":1.145,"y":83},{"s":"4","x":1.155,"y":78},{"s":"4","x":1.165,"y":80},{"s":"4","x":1.175,"y":77},{"s":"4","x":1.185,"y":81},{"s":"4","x":1.195,"y":80},
{"s":"4","x":1.205,"y":78},{"s":"4","x":1.215,"y":82},{"s":"4","x":1.225,"y":79},{"s":"4","x":1.235,"y":81},{"s":"4","x":1.245,"y":77},{"s":"4","x":1.255,"y":80},{"s":"4","x":1.265,"y":78},{"s":"4","x":1.275,"y":83},{"s":"4","x":1.285,"y":77},{"s":"4","x":1.295,"y":81},
{"s":"4","x":1.305,"y":79},{"s":"4","x":1.315,"y":83},{"s":"4","x":1.325,"y":78},{"s":"4","x":1.335,"y":80},{"s":"4","x":1.345,"y":77},{"s":"4","x":1.355,"y":82},{"s":"4","x":1.365,"y":78},{"s":"4","x":1.375,"y":81},{"s":"4","x":1.385,"y":79},{"s":"4","x":1.395,"y":83},
{"s":"4","x":1.405,"y":79},{"s":"4","x":1.415,"y":80},{"s":"4","x":1.425,"y":78},{"s":"4","x":1.435,"y":82},{"s":"4","x":1.445,"y":77},{"s":"4","x":1.455,"y":81},{"s":"4","x":1.465,"y":79},{"s":"4","x":1.475,"y":83},{"s":"4","x":1.485,"y":78},{"s":"4","x":1.495,"y":81},
{"s":"4","x":1.505,"y":79},{"s":"4","x":1.515,"y":80},{"s":"4","x":1.525,"y":78},{"s":"4","x":1.535,"y":81},{"s":"4","x":1.545,"y":79},{"s":"4","x":1.555,"y":83},{"s":"4","x":1.565,"y":78},{"s":"4","x":1.575,"y":81},{"s":"4","x":1.585,"y":77},{"s":"4","x":1.595,"y":82},
{"s":"4","x":1.605,"y":79},{"s":"4","x":1.615,"y":80},{"s":"4","x":1.625,"y":78},{"s":"4","x":1.635,"y":82},{"s":"4","x":1.645,"y":77},{"s":"4","x":1.655,"y":81},{"s":"4","x":1.665,"y":78},{"s":"4","x":1.675,"y":83},{"s":"4","x":1.685,"y":79},{"s":"4","x":1.695,"y":81},
{"s":"4","x":1.705,"y":78},{"s":"4","x":1.715,"y":82},{"s":"4","x":1.725,"y":79},{"s":"4","x":1.735,"y":80},{"s":"4","x":1.745,"y":77},{"s":"4","x":1.755,"y":82},{"s":"4","x":1.765,"y":79},{"s":"4","x":1.775,"y":80},{"s":"4","x":1.785,"y":77},{"s":"4","x":1.795,"y":82},
{"s":"4","x":1.805,"y":80},{"s":"4","x":1.815,"y":79},{"s":"4","x":1.825,"y":82},{"s":"4","x":1.835,"y":78},{"s":"4","x":1.845,"y":80},{"s":"4","x":1.855,"y":77},{"s":"4","x":1.865,"y":82},{"s":"4","x":1.875,"y":79},{"s":"4","x":1.885,"y":80},{"s":"4","x":1.895,"y":82},
{"s":"4","x":1.905,"y":78},{"s":"4","x":1.915,"y":81},{"s":"4","x":1.925,"y":79},{"s":"4","x":1.935,"y":80},{"s":"4","x":1.945,"y":78},{"s":"4","x":1.955,"y":83},{"s":"4","x":1.965,"y":79},{"s":"4","x":1.975,"y":81},{"s":"4","x":1.985,"y":78},{"s":"4","x":1.995,"y":82},
{"s":"4","x":2.005,"y":79},{"s":"4","x":2.015,"y":80},{"s":"4","x":2.025,"y":82},{"s":"4","x":2.035,"y":78},{"s":"4","x":2.045,"y":80},{"s":"4","x":2.055,"y":79},{"s":"4","x":2.065,"y":82},{"s":"4","x":2.075,"y":77},{"s":"4","x":2.085,"y":80},{"s":"4","x":2.095,"y":79},
{"s":"4","x":2.105,"y":80},{"s":"4","x":2.115,"y":82},{"s":"4","x":2.125,"y":79},{"s":"4","x":2.135,"y":81},{"s":"4","x":2.145,"y":78},{"s":"4","x":2.155,"y":80},{"s":"4","x":2.165,"y":78},{"s":"4","x":2.175,"y":82},{"s":"4","x":2.185,"y":79},{"s":"4","x":2.195,"y":80},
{"s":"4","x":2.205,"y":80},{"s":"4","x":2.215,"y":82},{"s":"4","x":2.225,"y":79},{"s":"4","x":2.235,"y":80},{"s":"4","x":2.245,"y":79},{"s":"4","x":2.255,"y":81},{"s":"4","x":2.265,"y":79},{"s":"4","x":2.275,"y":82},{"s":"4","x":2.285,"y":77},{"s":"4","x":2.295,"y":80},
{"s":"4","x":2.305,"y":79},{"s":"4","x":2.315,"y":80},{"s":"4","x":2.325,"y":77},{"s":"4","x":2.335,"y":80},{"s":"4","x":2.345,"y":76},{"s":"4","x":2.355,"y":80},{"s":"4","x":2.365,"y":78},{"s":"4","x":2.375,"y":79},{"s":"4","x":2.385,"y":80},{"s":"4","x":2.395,"y":78},
{"s":"4","x":2.405,"y":76},{"s":"4","x":2.415,"y":78},{"s":"4","x":2.425,"y":74},{"s":"4","x":2.435,"y":76},{"s":"4","x":2.445,"y":73},{"s":"4","x":2.455,"y":75},{"s":"4","x":2.465,"y":71},{"s":"4","x":2.475,"y":74},{"s":"4","x":2.485,"y":70},{"s":"4","x":2.495,"y":72},
{"s":"4","x":2.505,"y":69},{"s":"4","x":2.515,"y":72},{"s":"4","x":2.525,"y":67},{"s":"4","x":2.535,"y":70},{"s":"4","x":2.545,"y":66},{"s":"4","x":2.555,"y":69},{"s":"4","x":2.565,"y":65},{"s":"4","x":2.575,"y":68},{"s":"4","x":2.585,"y":64},{"s":"4","x":2.595,"y":67},
{"s":"4","x":2.605,"y":63},{"s":"4","x":2.615,"y":66},{"s":"4","x":2.625,"y":62},{"s":"4","x":2.635,"y":65},{"s":"4","x":2.645,"y":61},{"s":"4","x":2.655,"y":64},
{"s":"4","x":2.675,"y":52},{"s":"4","x":2.685,"y":54},{"s":"4","x":2.695,"y":50},{"s":"4","x":2.705,"y":53},{"s":"4","x":2.715,"y":50},{"s":"4","x":2.725,"y":52},{"s":"4","x":2.735,"y":49},{"s":"4","x":2.745,"y":51},{"s":"4","x":2.755,"y":48},{"s":"4","x":2.765,"y":50},
{"s":"4","x":2.775,"y":47},{"s":"4","x":2.785,"y":49},{"s":"4","x":2.795,"y":46},{"s":"4","x":2.805,"y":48},{"s":"4","x":2.815,"y":45},{"s":"4","x":2.825,"y":47},{"s":"4","x":2.835,"y":45},{"s":"4","x":2.845,"y":46},{"s":"4","x":2.855,"y":44},{"s":"4","x":2.865,"y":47},
{"s":"4","x":2.875,"y":44},{"s":"4","x":2.885,"y":46},{"s":"4","x":2.895,"y":43},{"s":"4","x":2.905,"y":46},{"s":"4","x":2.915,"y":43},{"s":"4","x":2.925,"y":45},{"s":"4","x":2.935,"y":43},{"s":"4","x":2.945,"y":44},{"s":"4","x":2.955,"y":43},{"s":"4","x":2.965,"y":44},{"s":"4","x":2.975,"y":43},

{"s":"1","x":0,"y":125},{"s":"1","x":2.95,"y":125},
{"s":"3","x":2.364,"y":80},{"s":"3","x":2.95,"y":80}
],
"dots": [{"x": 1.473, "y": 70}, {"x": 2.432, "y": 76.5}],
"arrows": [{"x": 1.473, "y": 67.5, "y2": 5.5}, {"x": 2.432, "y": 74, "y2": 5.5}],
"heads": [{"x": 1.473, "y": 3.4}, {"x": 2.432, "y": 3.4}],
"boxes": [{"x": 1.196, "x2": 1.767, "y": -2.4, "y2": -14.1}, {"x": 2.144, "x2": 2.716, "y": -2.4, "y2": -14.1}],
"labels": [{"x": 1.482, "y": -8.0, "t": "Kötés telítettsége"}, {"x": 2.43, "y": -8.0, "t": "Kötés telítettsége"}]
},
"encoding": {
  "x": {"field": "x", "type": "quantitative", "scale": {"domain": [0, 3], "nice": false, "zero": false},
        "axis": {"values": [0, 1, 2, 3], "format": "d", "grid": false, "domain": false, "ticks": false, "tickSize": 0, "labelPadding": 13, "labelFontSize": 17.5, "labelFlush": false, "labelOverlap": false,
                 "title": ["Vizsgálati", "idő", "(napok)"], "titleFontSize": 17.5, "titleX": -105, "titleY": 12, "titleAlign": "left", "titleAnchor": "start", "titleBaseline": "top", "titleLineHeight": 26}},
  "y": {"field": "y", "type": "quantitative", "scale": {"domain": [0, 130], "nice": false, "zero": false},
        "axis": {"values": [0,10,20,30,40,50,60,70,80,90,100,110,120,130], "labelExpr": "datum.value == 0 ? '0' : '-' + datum.value", "grid": true, "gridColor": "#e2e2e8", "gridWidth": 2, "domain": false, "ticks": false, "tickSize": 0, "labelPadding": 20, "labelFontSize": 17, "labelOverlap": false,
                 "title": "Negatív nyomás (Hgmm)", "titleFontSize": 16.5, "titleX": -85, "titleY": 222, "titleAngle": -90, "titleAlign": "center", "titleBaseline": "middle"}}
},
"layer": [
  {"data": {"name": "frame"}, "mark": {"type": "rect", "fillOpacity": 0, "fill": "white", "stroke": "#cbcbcb", "strokeWidth": 2, "clip": false},
   "encoding": {"x2": {"field": "x2"}, "y2": {"field": "y2"}}},
  {"data": {"name": "series"}, "mark": {"type": "line", "strokeCap": "round", "strokeJoin": "round"},
   "encoding": {
     "color": {"field": "s", "type": "nominal",
       "scale": {"domain": ["1", "2", "3", "4", "5"], "range": ["#76b357", "#86b266", "#86858a", "#8b8a8f", "#c3c2c6"]},
       "legend": {"title": null, "orient": "none", "legendX": -2, "legendY": 535, "padding": 0,
         "symbolType": "M-1,0H9", "symbolSize": 458, "symbolStrokeWidth": 5, "symbolFillColor": "transparent",
         "labelFontSize": 15, "labelColor": "#1a1a1a", "labelLimit": 0, "labelOffset": 104, "rowPadding": 9.5,
         "labelExpr": "datum.label == '1' ? 'Avance Solo NPWT rendszer tervezett negatív nyomás (125 Hgmm)' : datum.label == '2' ? 'Avance Solo NPWT rendszer negatív nyomás (Hgmm) kifejtése szimulált sebre' : datum.label == '3' ? 'Tartály nélküli suNPWT rendszer A és B tervezett negatív nyomás (80 Hgmm)' : datum.label == '4' ? 'Tartály nélküli suNPWT rendszer A negatív nyomás (Hgmm) kifejtése szimulált sebre' : 'Tartály nélküli suNPWT rendszer B negatív nyomás (Hgmm) kifejtése szimulált sebre'"}},
     "strokeDash": {"field": "s", "type": "nominal", "scale": {"domain": ["1", "2", "3", "4", "5"], "range": [[19, 25.2], [1, 0], [19, 25.2], [1, 0], [1, 0]]}, "legend": null},
     "strokeWidth": {"field": "s", "type": "nominal", "scale": {"type": "ordinal", "domain": ["1", "2", "3", "4", "5"], "range": [5, 3.0, 5, 3.0, 2.8]}, "legend": null}
   }},
  {"data": {"name": "arrows"}, "mark": {"type": "rule", "color": "#d0121b", "strokeWidth": 2.2, "strokeDash": [2.5, 5.8]},
   "encoding": {"y2": {"field": "y2"}}},
  {"data": {"name": "heads"}, "mark": {"type": "point", "shape": "triangle-down", "filled": true, "color": "#d0121b", "size": 160, "opacity": 1}},
  {"data": {"name": "dots"}, "mark": {"type": "point", "shape": "circle", "filled": true, "color": "#d0121b", "size": 95, "opacity": 1}},
  {"data": {"name": "boxes"}, "mark": {"type": "rect", "fill": "white", "stroke": "#a3a3a3", "strokeWidth": 1.5, "clip": false},
   "encoding": {"x2": {"field": "x2"}, "y2": {"field": "y2"}}},
  {"data": {"name": "labels"}, "mark": {"type": "text", "fontSize": 16, "color": "#1a1a1a", "align": "center", "baseline": "middle", "clip": false},
   "encoding": {"text": {"field": "t"}}}
]
}
